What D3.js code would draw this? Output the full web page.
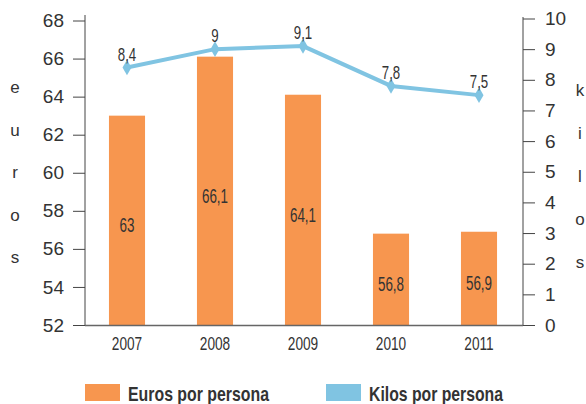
<!DOCTYPE html>
<html>
<head>
<meta charset="utf-8">
<script src="https://cdn.jsdelivr.net/npm/d3@7"></script>
<style>
  body { margin: 0; background: #fff; }
  .tick text { font-family: "Liberation Sans", Arial, sans-serif; font-size: 19px; fill: #333; }
  .narrow { font-family: "Liberation Sans", Arial, sans-serif; fill: #333; }
  .ytitle { font-family: "Liberation Sans", Arial, sans-serif; font-size: 17px; fill: #333; }
</style>
</head>
<body>
<div class="chart"></div>
<script>
const WIDTH = 586;
const HEIGHT = 404;

var years = ['2007', '2008', '2009', '2010', '2011'];
var euros = [63, 66.1, 64.1, 56.8, 56.9];
var kilos = [8.4, 9, 9.1, 7.8, 7.5];
var euroTicks = [52, 54, 56, 58, 60, 62, 64, 66, 68];
var kiloTicks = [0, 1, 2, 3, 4, 5, 6, 7, 8, 9, 10];
var legendLabels = ['Euros por persona', 'Kilos por persona'];
var leftTitle = 'euros';
var rightTitle = 'kilos';

const ORANGE = '#f7964f';
const BLUE = '#80c4e2';

var fmt = function (v) { return String(v).replace('.', ','); };

var svg = d3.select('.chart').append('svg')
    .attr('width', WIDTH)
    .attr('height', HEIGHT);

var xScale = d3.scaleBand().domain(years).range([83, 523])
    .paddingInner(0.59).paddingOuter(0.295);
var yEuro = d3.scaleLinear().domain([52, 68]).range([325, 20.5]);
var yKilo = d3.scaleLinear().domain([0, 10]).range([325, 18.5]);

function centre(d) { return xScale(d) + xScale.bandwidth() / 2; }

// no condensed font installed, so squeeze a normal one horizontally
function narrow(sel, size, sx, fx, fy) {
    return sel.append('text')
        .attr('class', 'narrow')
        .attr('text-anchor', 'middle')
        .style('font-size', size + 'px')
        .attr('transform', function (d, i) {
            return 'translate(' + fx(d, i) + ',' + fy(d, i) + ') scale(' + sx + ',1)';
        });
}

// bars
svg.append('g').selectAll('rect').data(years).enter().append('rect')
    .attr('x', function (d) { return xScale(d); })
    .attr('width', xScale.bandwidth())
    .attr('y', function (d, i) { return yEuro(euros[i]); })
    .attr('height', function (d, i) { return yEuro(52) - yEuro(euros[i]); })
    .attr('fill', ORANGE);

narrow(svg.append('g').selectAll('text').data(years).enter(), 21, 0.64, centre,
    function (d, i) { return (yEuro(euros[i]) + yEuro(52)) / 2 + 12; })
    .text(function (d, i) { return fmt(euros[i]); });

// axes
var leftAxis = d3.axisLeft(yEuro).tickValues(euroTicks).tickSize(12).tickPadding(9);
var gl = svg.append('g').attr('transform', 'translate(85,0)').call(leftAxis);
gl.select('.domain').attr('d', 'M0,15V325').attr('stroke', '#444');
gl.selectAll('.tick line').attr('stroke', '#444');

var rightAxis = d3.axisRight(yKilo).tickValues(kiloTicks).tickSize(12).tickPadding(10);
var gr = svg.append('g').attr('transform', 'translate(523,0)').call(rightAxis);
gr.select('.domain').attr('d', 'M0,17V325').attr('stroke', '#444');
gr.selectAll('.tick line').attr('stroke', '#444');

svg.append('line')
    .attr('x1', 85).attr('x2', 523).attr('y1', 325.5).attr('y2', 325.5)
    .attr('stroke', '#666').attr('stroke-width', 1.5);

narrow(svg.append('g').selectAll('text').data(years).enter(), 18, 0.76, centre,
    function () { return 350; })
    .text(function (d) { return d; });

// vertical axis titles, one letter per line
svg.append('g').selectAll('text').data(leftTitle.split('')).enter().append('text')
    .attr('class', 'ytitle')
    .attr('x', 15).attr('y', function (d, i) { return 93 + i * 42.5; })
    .attr('text-anchor', 'middle')
    .text(function (d) { return d; });

svg.append('g').selectAll('text').data(rightTitle.split('')).enter().append('text')
    .attr('class', 'ytitle')
    .attr('x', 580).attr('y', function (d, i) { return 96 + i * 43; })
    .attr('text-anchor', 'middle')
    .text(function (d) { return d; });

// line
var line = d3.line()
    .x(function (d) { return centre(d); })
    .y(function (d, i) { return yKilo(kilos[i]); });

svg.append('path')
    .attr('d', line(years))
    .attr('fill', 'none')
    .attr('stroke', BLUE)
    .attr('stroke-width', 4);

svg.append('g').selectAll('path').data(years).enter().append('path')
    .attr('d', d3.symbol().type(d3.symbolDiamond).size(70))
    .attr('transform', function (d, i) { return 'translate(' + centre(d) + ',' + yKilo(kilos[i]) + ')'; })
    .attr('fill', BLUE);

narrow(svg.append('g').selectAll('text').data(years).enter(), 19, 0.7, centre,
    function (d, i) { return yKilo(kilos[i]) - 7; })
    .text(function (d, i) { return fmt(kilos[i]); });

// legend
var legend = svg.append('g');
[ORANGE, BLUE].forEach(function (c, i) {
    var x0 = i === 0 ? 85 : 326;
    legend.append('rect')
        .attr('x', x0).attr('y', 384).attr('width', 35).attr('height', 17)
        .attr('fill', c);
    legend.append('text')
        .attr('class', 'narrow')
        .attr('x', x0 + 43).attr('y', 401)
        .style('font-size', '21px')
        .style('font-weight', 'bold')
        .attr('textLength', i === 0 ? 141 : 134)
        .attr('lengthAdjust', 'spacingAndGlyphs')
        .text(legendLabels[i]);
});
</script>
</body>
</html>
